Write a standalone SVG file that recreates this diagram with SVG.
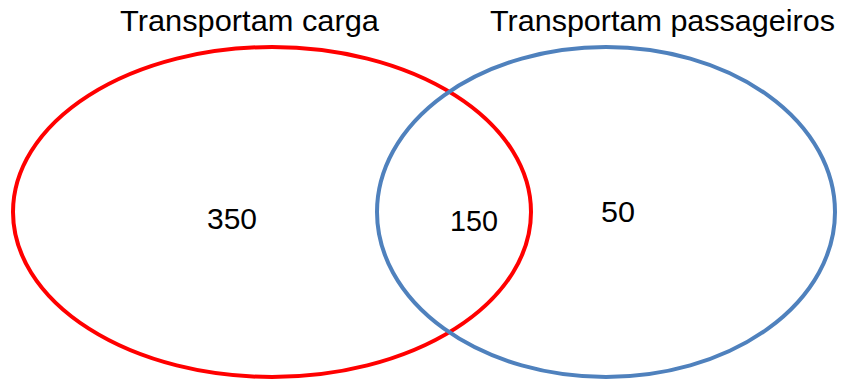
<svg xmlns="http://www.w3.org/2000/svg" width="843" height="380" viewBox="0 0 843 380">
<style>
.t{font-family:"Liberation Sans",Arial,sans-serif;font-size:29px;fill:#000}
.e{fill:none;stroke-width:4}
</style>
<rect width="843" height="380" fill="#fff"/>
<g id="carga">
<ellipse class="e" cx="272" cy="212" rx="259" ry="165" stroke="#FF0000"/>
<text class="t" x="120" y="31" textLength="259" lengthAdjust="spacingAndGlyphs">Transportam carga</text>
</g>
<g id="passageiros">
<ellipse class="e" cx="606" cy="212" rx="229" ry="165" stroke="#4F81BD"/>
<text class="t" x="490" y="31" textLength="345" lengthAdjust="spacingAndGlyphs">Transportam passageiros</text>
</g>
<g id="labels">
<text class="t" x="207" y="229" textLength="50" lengthAdjust="spacingAndGlyphs">350</text>
<text class="t" x="450" y="231" textLength="48" lengthAdjust="spacingAndGlyphs">150</text>
<text class="t" x="601" y="222" textLength="34" lengthAdjust="spacingAndGlyphs">50</text>
</g>
<g id="connectors"/>
</svg>
